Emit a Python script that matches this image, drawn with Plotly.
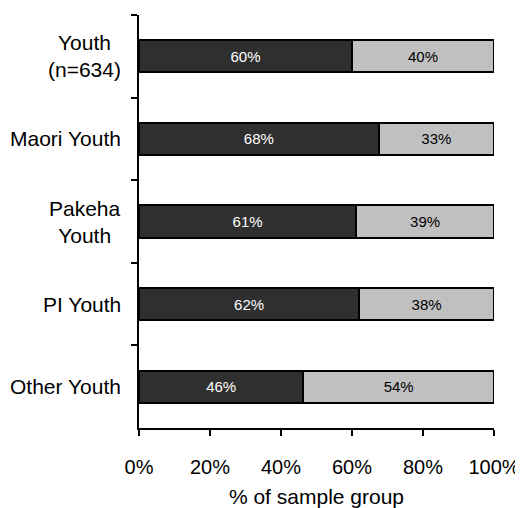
import plotly.graph_objects as go

categories = ["Youth<br>(n=634)", "Maori Youth", "Pakeha<br>Youth", "PI Youth", "Other Youth"]
dark_values = [60, 67.5, 61.2, 62, 46.3]
light_values = [40, 32.5, 38.8, 38, 53.7]
dark_labels = ["60%", "68%", "61%", "62%", "46%"]
light_labels = ["40%", "33%", "39%", "38%", "54%"]
x_ticks = [0, 20, 40, 60, 80, 100]
x_ticklabels = ["0%", "20%", "40%", "60%", "80%", "100%"]

FONT = "Liberation Sans, Arial"

fig = go.Figure()
fig.add_trace(go.Bar(
    y=categories, x=dark_values, orientation="h", width=0.39,
    marker=dict(color="#2f2f2f", line=dict(color="black", width=2)),
    text=dark_labels, textposition="inside", insidetextanchor="middle",
    textfont=dict(color="white", size=15, family=FONT),
    cliponaxis=False,
))
fig.add_trace(go.Bar(
    y=categories, x=light_values, orientation="h", width=0.39,
    marker=dict(color="#c0c0c0", line=dict(color="black", width=2)),
    text=light_labels, textposition="inside", insidetextanchor="middle",
    textfont=dict(color="black", size=15, family=FONT),
    cliponaxis=False,
))

for c in categories:
    fig.add_annotation(
        x=0, xref="paper", y=c, yref="y", text=c, showarrow=False,
        xanchor="right", yanchor="middle", align="center", xshift=-16,
        font=dict(size=21, family=FONT, color="black"),
    )

fig.update_layout(
    barmode="stack",
    width=515, height=500,
    margin=dict(l=131, r=29, t=7, b=80),
    paper_bgcolor="white", plot_bgcolor="white",
    showlegend=False,
    uniformtext=dict(minsize=15, mode="show"),
    font=dict(family=FONT, size=20, color="black"),
    xaxis=dict(
        range=[0, 100], tickvals=x_ticks, ticktext=x_ticklabels,
        showgrid=False, zeroline=False, automargin=False,
        showline=True, linecolor="black", linewidth=2,
        ticks="outside", ticklen=6, tickwidth=2, tickcolor="black",
        ticklabelstandoff=14, ticklabeloverflow="allow",
        title=dict(text="% of sample group", font=dict(size=21), standoff=20),
        tickfont=dict(size=20),
    ),
    yaxis=dict(
        type="category", range=[4.5, -0.5],
        tickson="boundaries", showticklabels=False,
        showgrid=False, zeroline=False, automargin=False,
        showline=True, linecolor="black", linewidth=2,
        ticks="outside", ticklen=6, tickwidth=2, tickcolor="black",
    ),
)

fig.write_html("out.html")
